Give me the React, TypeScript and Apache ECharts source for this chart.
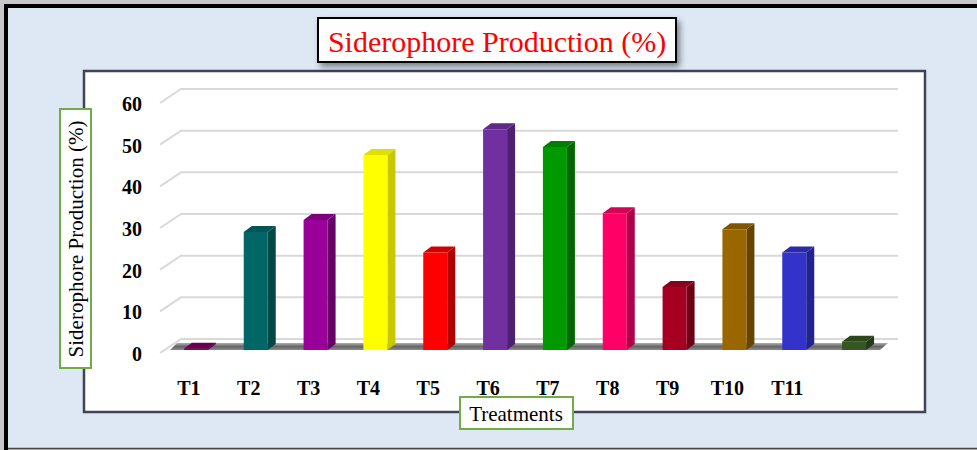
import React, { useEffect, useRef } from "react";
import * as echarts from "echarts";

const categories = ["T1", "T2", "T3", "T4", "T5", "T6", "T7", "T8", "T9", "T10", "T11", "T12"];
const tickLabels = ["T1", "T2", "T3", "T4", "T5", "T6", "T7", "T8", "T9", "T10", "T11", ""];
const values = [0.3, 28.3, 31.2, 46.8, 23.4, 53.0, 48.7, 32.8, 15.1, 29.0, 23.4, 2.0];
const frontColors = ["#800060", "#006666", "#990099", "#ffff00", "#ff0000", "#7030a0", "#009900", "#ff0066", "#a50021", "#996600", "#3333cc", "#375623"];
const sideColors = ["#5a0044", "#004848", "#660066", "#c8c800", "#b00000", "#4e2072", "#006600", "#b0004a", "#6e0016", "#664400", "#23238f", "#24381a"];
const topColors = ["#6a0050", "#005656", "#7e007e", "#e0e000", "#d40000", "#602888", "#008000", "#d60056", "#8a001c", "#805500", "#2a2aab", "#2d471d"];
const yTicks = [0, 10, 20, 30, 40, 50, 60];

const serif = "'Liberation Serif', 'Times New Roman', serif";

export default function App() {
  const ref = useRef<HTMLDivElement>(null);
  useEffect(() => {
    const chart = echarts.init(ref.current!, null, { renderer: "svg" });
    const barW = 24;
    const dx = 8;
    const dy = -6;
    const option: any = {
      animation: false,
      backgroundColor: "transparent",
      grid: { left: 166, top: 100, width: 718, height: 250, containLabel: false },
      xAxis: {
        type: "category",
        data: categories,
        axisLine: { show: false },
        axisTick: { show: false },
        splitLine: { show: false },
        axisLabel: {
          margin: 28,
          fontFamily: serif,
          fontWeight: "bold",
          fontSize: 20,
          color: "#000",
          padding: [0, 14, 0, 0],
          formatter: (_v: string, i: number) => tickLabels[i],
        },
      },
      yAxis: {
        type: "value",
        min: 0,
        max: 60,
        interval: 10,
        axisLine: { show: false },
        axisTick: { show: false },
        splitLine: { show: false },
        axisLabel: {
          margin: 24,
          fontFamily: serif,
          fontWeight: "bold",
          fontSize: 20,
          color: "#000",
          verticalAlign: "top",
          lineHeight: 8,
        },
      },
      graphic: [
        {
          type: "rect",
          shape: { x: 0, y: 0, width: 977, height: 450 },
          style: { fill: "#c8c8c8" },
          z: -12,
        },
        {
          type: "rect",
          shape: { x: 4, y: 4, width: 973, height: 444 },
          style: { fill: "#dde8f4" },
          z: -11,
        },
        {
          type: "polyline",
          shape: { points: [[6, 450], [6, 6], [977, 6]] },
          style: { stroke: "#000", lineWidth: 4, fill: null },
          z: -10,
        },
        {
          type: "line",
          shape: { x1: 8, y1: 448.5, x2: 977, y2: 448.5 },
          style: { stroke: "#444", lineWidth: 1.5 },
          z: -9,
        },
        {
          type: "rect",
          shape: { x: 84, y: 71, width: 841, height: 341 },
          style: { fill: "#ffffff", stroke: "#3d4556", lineWidth: 2.5 },
          z: -8,
        },
        {
          type: "rect",
          shape: { x: 318, y: 18, width: 358, height: 44 },
          style: {
            fill: "#ffffff",
            stroke: "#000",
            lineWidth: 2,
            shadowBlur: 6,
            shadowOffsetX: 3,
            shadowOffsetY: 4,
            shadowColor: "rgba(0,0,0,0.45)",
          },
          z: 5,
        },
        {
          type: "text",
          x: 497,
          y: 41,
          style: {
            text: "Siderophore Production (%)",
            fill: "#ff0000",
            font: `30px ${serif}`,
            align: "center",
            verticalAlign: "middle",
          },
          z: 6,
        },
        {
          type: "rect",
          shape: { x: 60, y: 109, width: 31, height: 259 },
          style: { fill: "#ffffff", stroke: "#70ad47", lineWidth: 2 },
          z: 5,
        },
        {
          type: "text",
          x: 76,
          y: 239,
          rotation: Math.PI / 2,
          style: {
            text: "Siderophore Production (%)",
            fill: "#000",
            font: `21px ${serif}`,
            align: "center",
            verticalAlign: "middle",
          },
          z: 6,
        },
        {
          type: "rect",
          shape: { x: 460, y: 397, width: 113, height: 32 },
          style: { fill: "#ffffff", stroke: "#70ad47", lineWidth: 2 },
          z: 5,
        },
        {
          type: "text",
          x: 516,
          y: 414,
          style: {
            text: "Treatments",
            fill: "#000",
            font: `21px ${serif}`,
            align: "center",
            verticalAlign: "middle",
          },
          z: 6,
        },
      ],
      series: [
        {
          type: "custom",
          z: 1,
          silent: true,
          data: yTicks.map((v) => [0, v]),
          renderItem: (params: any, api: any) => {
            const v = api.value(1);
            const c = api.coord([0, v])[1];
            const cs = params.coordSys;
            const fx = cs.x - 6;
            const bx = cs.x + 15;
            const ex = cs.x + cs.width + 14;
            const children: any[] = [
              {
                type: "polyline",
                shape: { points: [[fx, c + 3], [bx, c - 11], [ex, c - 11]] },
                style: { stroke: "#d9d9d9", lineWidth: 2, fill: null },
              },
            ];
            if (v === 0) {
              children.push({
                type: "polygon",
                shape: {
                  points: [
                    [cs.x + 4, c],
                    [cs.x + cs.width - 4, c],
                    [cs.x + cs.width + 4, c - 7],
                    [cs.x + 11, c - 7],
                  ],
                },
                style: {
                  fill: new echarts.graphic.LinearGradient(0, 0, 0, 1, [
                    { offset: 0, color: "#b0b0b0" },
                    { offset: 0.5, color: "#666666" },
                    { offset: 1, color: "#8a8a8a" },
                  ]),
                },
              });
            }
            return { type: "group", children };
          },
        },
        {
          type: "custom",
          z: 2,
          data: values.map((v, i) => [i, v]),
          renderItem: (params: any, api: any) => {
            const i = api.value(0);
            const v = api.value(1);
            const base = api.coord([i, 0]);
            const top = api.coord([i, v]);
            const x0 = base[0] - barW / 2;
            const x1 = base[0] + barW / 2;
            const yb = base[1];
            const yt = top[1];
            return {
              type: "group",
              children: [
                {
                  type: "polygon",
                  shape: { points: [[x1, yb], [x1 + dx, yb + dy], [x1 + dx, yt + dy], [x1, yt]] },
                  style: { fill: sideColors[i] },
                },
                {
                  type: "polygon",
                  shape: { points: [[x0, yt], [x1, yt], [x1 + dx, yt + dy], [x0 + dx, yt + dy]] },
                  style: { fill: topColors[i] },
                },
                {
                  type: "rect",
                  shape: { x: x0, y: yt, width: barW, height: yb - yt },
                  style: { fill: frontColors[i] },
                },
              ],
            };
          },
        },
      ],
    };
    chart.setOption(option);
    return () => chart.dispose();
  }, []);
  return <div ref={ref} style={{ width: 977, height: 450, position: "absolute", left: 0, top: 0 }} />;
}
